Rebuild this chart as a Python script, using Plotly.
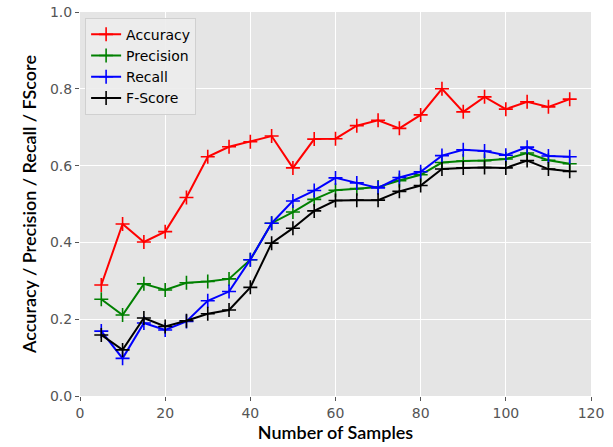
import plotly.graph_objects as go

samples = [5, 10, 15, 20, 25, 30, 35, 40, 45, 50, 55, 60, 65, 70, 75, 80, 85, 90, 95, 100, 105, 110, 115]
accuracy = [0.289, 0.448, 0.401, 0.428, 0.517, 0.623, 0.649, 0.662, 0.677, 0.594, 0.669, 0.670, 0.704, 0.718, 0.697, 0.732, 0.800, 0.740, 0.779, 0.747, 0.766, 0.753, 0.773]
precision = [0.252, 0.211, 0.292, 0.276, 0.295, 0.298, 0.305, 0.355, 0.450, 0.479, 0.512, 0.536, 0.540, 0.544, 0.561, 0.576, 0.608, 0.612, 0.613, 0.617, 0.633, 0.614, 0.605]
recall = [0.169, 0.098, 0.190, 0.172, 0.194, 0.248, 0.272, 0.355, 0.450, 0.508, 0.535, 0.568, 0.555, 0.542, 0.569, 0.584, 0.626, 0.641, 0.638, 0.627, 0.648, 0.625, 0.623]
fscore = [0.159, 0.120, 0.203, 0.181, 0.196, 0.214, 0.224, 0.283, 0.398, 0.437, 0.482, 0.509, 0.510, 0.510, 0.533, 0.548, 0.591, 0.594, 0.595, 0.594, 0.613, 0.591, 0.585]

series = [("Accuracy", accuracy, "#FF0000"),
          ("Precision", precision, "#008000"),
          ("Recall", recall, "#0000FF"),
          ("F-Score", fscore, "#000000")]

fig = go.Figure()
for name, vals, col in series:
    fig.add_trace(go.Scatter(
        x=samples, y=vals, name=name, mode="lines+markers",
        line=dict(color=col, width=2),
        marker=dict(symbol="cross-thin", size=10, line=dict(color=col, width=1.6)),
    ))

axis_common = dict(
    showgrid=True, gridcolor="white", gridwidth=1.3,
    zeroline=False, showline=False, automargin=False,
    ticks="outside", ticklen=4, tickwidth=1, tickcolor="#555555",
    tickfont=dict(family="DejaVu Sans", size=14, color="#555555"),
)

title_font = dict(family="Lato", size=18, color="black", weight=600)

fig.update_layout(
    width=613, height=447,
    margin=dict(l=80, r=22, t=12, b=51),
    paper_bgcolor="white", plot_bgcolor="#E5E5E5",
    showlegend=True,
    legend=dict(x=0.01, y=0.985, xanchor="left", yanchor="top",
                bgcolor="rgba(236,236,236,0.9)", bordercolor="#D0D0D0", borderwidth=1,
                font=dict(family="DejaVu Sans", size=14, color="black"),
                itemwidth=30, tracegroupgap=0),
    xaxis=dict(range=[0, 120], tickvals=[0, 20, 40, 60, 80, 100, 120],
               title=dict(text="Number of Samples", standoff=6, font=title_font),
               **axis_common),
    yaxis=dict(range=[0, 1.0], tickvals=[0, 0.2, 0.4, 0.6, 0.8, 1.0], tickformat=".1f",
               title=dict(text="Accuracy / Precision / Recall / FScore", standoff=8, font=title_font),
               **axis_common),
)

fig.write_html("out.html", config={"displayModeBar": False},
               post_script="document.body.style.margin='0';document.body.style.overflow='hidden';")
